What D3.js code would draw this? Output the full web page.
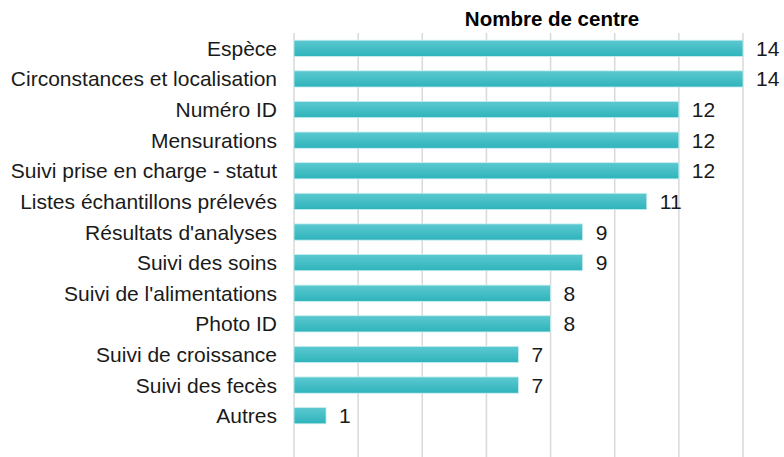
<!DOCTYPE html>
<html><head><meta charset="utf-8">
<script src="https://cdn.jsdelivr.net/npm/d3@7"></script>
<style>body{margin:0;background:#fff}svg{display:block}</style>
</head><body>
<script>
const categories = ["Espèce","Circonstances et localisation","Numéro ID","Mensurations","Suivi prise en charge - statut","Listes échantillons prélevés","Résultats d'analyses","Suivi des soins","Suivi de l'alimentations","Photo ID","Suivi de croissance","Suivi des fecès","Autres"];
const values = [14,14,12,12,12,11,9,9,8,8,7,7,1];
const tickValues = [0,2,4,6,8,10,12,14];
const title = "Nombre de centre";

const W = 784, H = 457;
const FONT = "Liberation Sans, Arial, sans-serif";
const svg = d3.select("body").append("svg").attr("width", W).attr("height", H);
const defs = svg.append("defs");
const g = defs.append("linearGradient").attr("id","bg").attr("x1",0).attr("y1",0).attr("x2",0).attr("y2",1);
g.append("stop").attr("offset","0%").attr("stop-color","#5cc9d0");
g.append("stop").attr("offset","100%").attr("stop-color","#2fb3bb");

const x = d3.scaleLinear().domain([0,14]).range([294,743]);
const y = d3.scaleBand().domain(categories).range([33,431]).paddingInner(0.47).paddingOuter(0.235);

svg.append("g").selectAll("line").data(tickValues).join("line")
  .attr("x1", d=>x(d)).attr("x2", d=>x(d)).attr("y1", 33).attr("y2", H)
  .attr("stroke", "#d9d9d9").attr("stroke-width", 1.5);

svg.append("g").selectAll("rect").data(values).join("rect")
  .attr("x", x(0)).attr("y", (d,i)=>y(categories[i]))
  .attr("width", d=>x(d)-x(0)).attr("height", y.bandwidth())
  .attr("fill", "url(#bg)").attr("stroke", "#c9eef0").attr("stroke-width", 0.8);

svg.append("g").selectAll("text").data(categories).join("text")
  .attr("x", 277).attr("y", d=>y(d)+y.bandwidth()/2).attr("dy","0.36em")
  .attr("text-anchor","end").attr("font-family",FONT)
  .attr("font-size", 21).attr("fill","#1a1a1a").text(d=>d);

svg.append("g").selectAll("text").data(values).join("text")
  .attr("x", d=>x(d)+13).attr("y", (d,i)=>y(categories[i])+y.bandwidth()/2).attr("dy","0.36em")
  .attr("font-family",FONT)
  .attr("font-size", 21).attr("fill","#1a1a1a").text(d=>d);

svg.append("text").attr("x", 552).attr("y", 26).attr("text-anchor","middle")
  .attr("font-family",FONT).attr("font-weight","bold")
  .attr("font-size", 20.5).attr("fill","#000").text(title);
</script>
</body></html>
